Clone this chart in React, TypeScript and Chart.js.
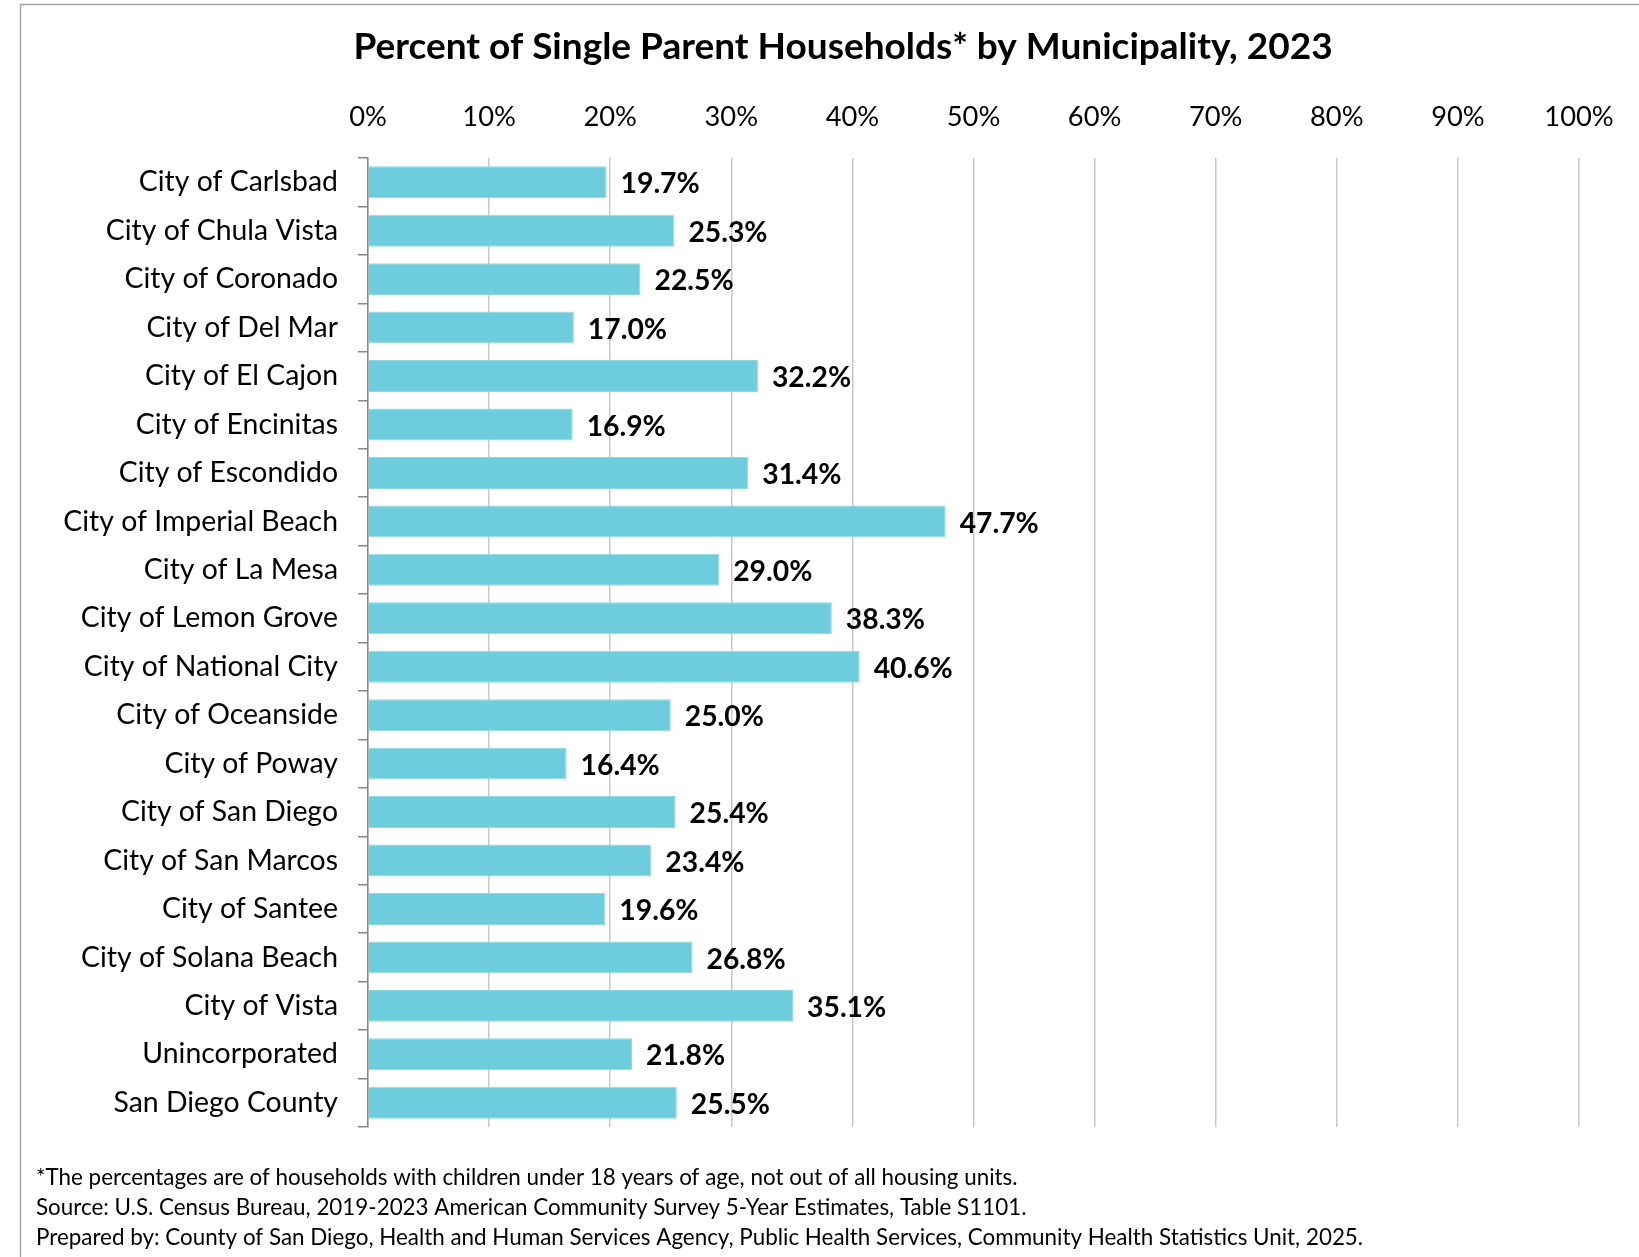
import React, { useEffect, useRef } from "react";
import { Chart, registerables } from "chart.js";

Chart.register(...registerables);

const titleText = "Percent of Single Parent Households* by Municipality, 2023";

const municipalities = [
  "City of Carlsbad",
  "City of Chula Vista",
  "City of Coronado",
  "City of Del Mar",
  "City of El Cajon",
  "City of Encinitas",
  "City of Escondido",
  "City of Imperial Beach",
  "City of La Mesa",
  "City of Lemon Grove",
  "City of National City",
  "City of Oceanside",
  "City of Poway",
  "City of San Diego",
  "City of San Marcos",
  "City of Santee",
  "City of Solana Beach",
  "City of Vista",
  "Unincorporated",
  "San Diego County",
];

const percentValues = [
  19.7, 25.3, 22.5, 17.0, 32.2, 16.9, 31.4, 47.7, 29.0, 38.3, 40.6, 25.0, 16.4,
  25.4, 23.4, 19.6, 26.8, 35.1, 21.8, 25.5,
];

const footnotes = [
  "*The percentages are of households with children under 18 years of age, not out of all housing units.",
  "Source: U.S. Census Bureau, 2019-2023 American Community Survey 5-Year Estimates, Table S1101.",
  "Prepared by: County of San Diego, Health and Human Services Agency, Public Health Services, Community Health Statistics Unit, 2025.",
];

const FONT = "Lato, 'Open Sans', sans-serif";

export default function App() {
  const ref = useRef<HTMLCanvasElement | null>(null);

  useEffect(() => {
    if (!ref.current) return;

    const extras = {
      id: "extras",
      afterDraw(chart: any) {
        const ctx = chart.ctx;
        ctx.save();
        // frame
        ctx.strokeStyle = "#a6a6a6";
        ctx.lineWidth = 1.5;
        ctx.beginPath();
        ctx.moveTo(20.5, 1257);
        ctx.lineTo(20.5, 4.5);
        ctx.lineTo(1639, 4.5);
        ctx.stroke();

        // title
        ctx.fillStyle = "#000";
        ctx.font = `bold 37px ${FONT}`;
        ctx.textAlign = "center";
        ctx.textBaseline = "middle";
        ctx.fillText(titleText, 843, 47);

        // value labels
        const meta = chart.getDatasetMeta(0);
        ctx.font = `bold 28.3px ${FONT}`;
        ctx.textAlign = "left";
        ctx.textBaseline = "middle";
        meta.data.forEach((bar: any, i: number) => {
          ctx.fillText(percentValues[i].toFixed(1) + "%", bar.x + 14, bar.y + 2);
        });

        // footnotes
        ctx.font = `22.4px ${FONT}`;
        ctx.textBaseline = "middle";
        footnotes.forEach((t, i) => {
          ctx.fillText(t, 36, 1178 + i * 30);
        });
        ctx.restore();
      },
    };

    const chart = new Chart(ref.current, {
      type: "bar",
      data: {
        labels: municipalities,
        datasets: [
          {
            data: percentValues,
            backgroundColor: "#6ECDDD",
            borderColor: "#8ED8E6",
            borderWidth: 1,
            barPercentage: 0.66,
            categoryPercentage: 1,
          },
        ],
      },
      options: {
        indexAxis: "y",
        animation: false,
        responsive: false,
        events: [],
        layout: { padding: { left: 20, right: 60, top: 4, bottom: 130 } },
        plugins: {
          legend: { display: false },
          title: { display: false },
          tooltip: { enabled: false },
        },
        scales: {
          x: {
            position: "top",
            min: 0,
            max: 100,
            afterFit: (s: any) => {
              s.height = 154;
            },
            ticks: {
              stepSize: 10,
              padding: 24,
              color: "#000",
              font: { family: FONT, size: 27.3 },
              callback: (v: any) => v + "%",
            },
            grid: {
              color: "#c8c8c8",
              lineWidth: 1.5,
              drawTicks: false,
            },
            border: { display: false },
          },
          y: {
            afterFit: (s: any) => {
              s.width = 348;
            },
            ticks: {
              padding: 20,
              color: "#000",
              font: { family: FONT, size: 28.4 },
            },
            grid: {
              offset: true,
              drawOnChartArea: false,
              color: "#888",
              lineWidth: 1.5,
              tickLength: 10,
            },
            border: { display: true, color: "#888", width: 1.5 },
          },
        },
      },
      plugins: [extras],
    });

    return () => chart.destroy();
  }, []);

  return (
    <div style={{ position: "absolute", left: 0, top: 0, width: 1639, height: 1257, background: "#fff" }}>
      <canvas ref={ref} width={1639} height={1257} style={{ display: "block" }} />
    </div>
  );
}
